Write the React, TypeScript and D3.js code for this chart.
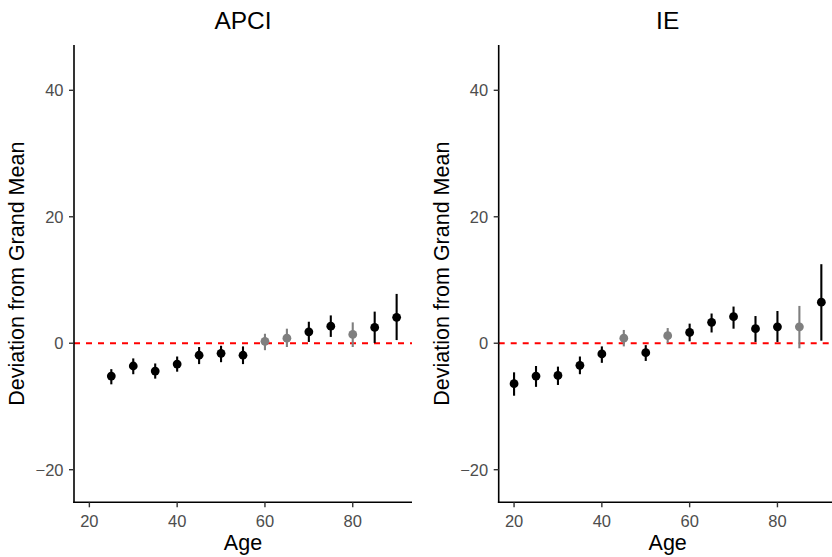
import React from "react";
import * as d3 from "d3";

const agesAPCI = [25, 30, 35, 40, 45, 50, 55, 60, 65, 70, 75, 80, 85, 90];
const estAPCI = [-5.2, -3.6, -4.4, -3.3, -1.9, -1.6, -1.9, 0.3, 0.8, 1.8, 2.7, 1.4, 2.5, 4.1];
const lowAPCI = [-6.5, -4.9, -5.6, -4.5, -3.3, -3.0, -3.3, -1.1, -0.6, 0.2, 1.0, -0.6, 0.05, 0.5];
const highAPCI = [-4.1, -2.4, -3.2, -2.1, -0.6, -0.4, -0.5, 1.5, 2.3, 3.4, 4.4, 3.3, 5.0, 7.8];
const sigAPCI = [true, true, true, true, true, true, true, false, false, true, true, false, true, true];

const agesIE = [20, 25, 30, 35, 40, 45, 50, 55, 60, 65, 70, 75, 80, 85, 90];
const estIE = [-6.4, -5.2, -5.1, -3.5, -1.7, 0.8, -1.5, 1.2, 1.7, 3.3, 4.2, 2.3, 2.6, 2.6, 6.5];
const lowIE = [-8.3, -6.9, -6.6, -4.9, -3.1, -0.5, -2.8, 0.0, 0.3, 1.7, 2.3, 0.2, 0.2, -0.8, 0.4];
const highIE = [-4.6, -3.6, -3.7, -2.1, -0.5, 2.1, -0.3, 2.4, 3.1, 4.7, 5.8, 4.3, 5.1, 5.9, 12.5];
const sigIE = [true, true, true, true, true, false, true, false, true, true, true, true, true, false, true];

const xTicks = [20, 40, 60, 80];
const yTicks = [-20, 0, 20, 40];
const panelTitles = ["APCI", "IE"];

const FONT = "'Liberation Sans', Arial, Helvetica, sans-serif";

type PanelProps = {
  title: string;
  left: number;
  ages: number[];
  est: number[];
  low: number[];
  high: number[];
  sig: boolean[];
};

function Panel({ title, left, ages, est, low, high, sig }: PanelProps) {
  const width = 338;
  const top = 45;
  const bottom = 502.3;
  const x = d3.scaleLinear().domain([16.5, 93.5]).range([left, left + width]);
  const y = d3.scaleLinear().domain([-20, 40]).range([469.7, 90.3]);
  const cx = left + width / 2;
  return (
    <g>
      <text x={cx} y={29} fontSize={24.5} textAnchor="middle" fill="#000" fontFamily={FONT}>
        {title}
      </text>
      {/* reference line */}
      <line x1={left} x2={left + width} y1={y(0)} y2={y(0)} stroke="#FF0000" strokeWidth={2} strokeDasharray="6,6" />
      {/* error bars */}
      {ages.map((a, i) => (
        <line
          key={"e" + i}
          x1={x(a)}
          x2={x(a)}
          y1={y(low[i])}
          y2={y(high[i])}
          stroke={sig[i] ? "#000" : "#7F7F7F"}
          strokeWidth={2.1}
        />
      ))}
      {ages.map((a, i) => (
        <circle key={"p" + i} cx={x(a)} cy={y(est[i])} r={4.4} fill={sig[i] ? "#000" : "#7F7F7F"} />
      ))}
      {/* axes */}
      <line x1={left} x2={left} y1={top} y2={bottom + 0.8} stroke="#000" strokeWidth={1.6} />
      <line x1={left - 0.8} x2={left + width} y1={bottom} y2={bottom} stroke="#000" strokeWidth={1.6} />
      {yTicks.map((t) => (
        <g key={"y" + t}>
          <line x1={left - 5} x2={left} y1={y(t)} y2={y(t)} stroke="#333" strokeWidth={1.4} />
          <text x={left - 10.5} y={y(t) + 6} fontSize={16.5} textAnchor="end" fill="#4D4D4D" fontFamily={FONT}>
            {t < 0 ? "\u2212" + Math.abs(t) : String(t)}
          </text>
        </g>
      ))}
      {xTicks.map((t) => (
        <g key={"x" + t}>
          <line x1={x(t)} x2={x(t)} y1={bottom} y2={bottom + 5} stroke="#333" strokeWidth={1.4} />
          <text x={x(t)} y={526.5} fontSize={16.5} textAnchor="middle" fill="#4D4D4D" fontFamily={FONT}>
            {t}
          </text>
        </g>
      ))}
      <text x={cx} y={550} fontSize={21.5} textAnchor="middle" fill="#000" fontFamily={FONT}>
        Age
      </text>
      <text
        transform={`translate(${left - 50},${(top + bottom) / 2}) rotate(-90)`}
        fontSize={21.5}
        textAnchor="middle"
        fill="#000"
        fontFamily={FONT}
      >
        Deviation from Grand Mean
      </text>
    </g>
  );
}

export default function App() {
  return (
    <svg
      width={832}
      height={557}
      style={{ position: "absolute", left: 0, top: 0, background: "#fff" }}
    >
      <rect x={0} y={0} width={832} height={557} fill="#fff" />
      <Panel title={panelTitles[0]} left={74} ages={agesAPCI} est={estAPCI} low={lowAPCI} high={highAPCI} sig={sigAPCI} />
      <Panel title={panelTitles[1]} left={498.7} ages={agesIE} est={estIE} low={lowIE} high={highIE} sig={sigIE} />
    </svg>
  );
}
